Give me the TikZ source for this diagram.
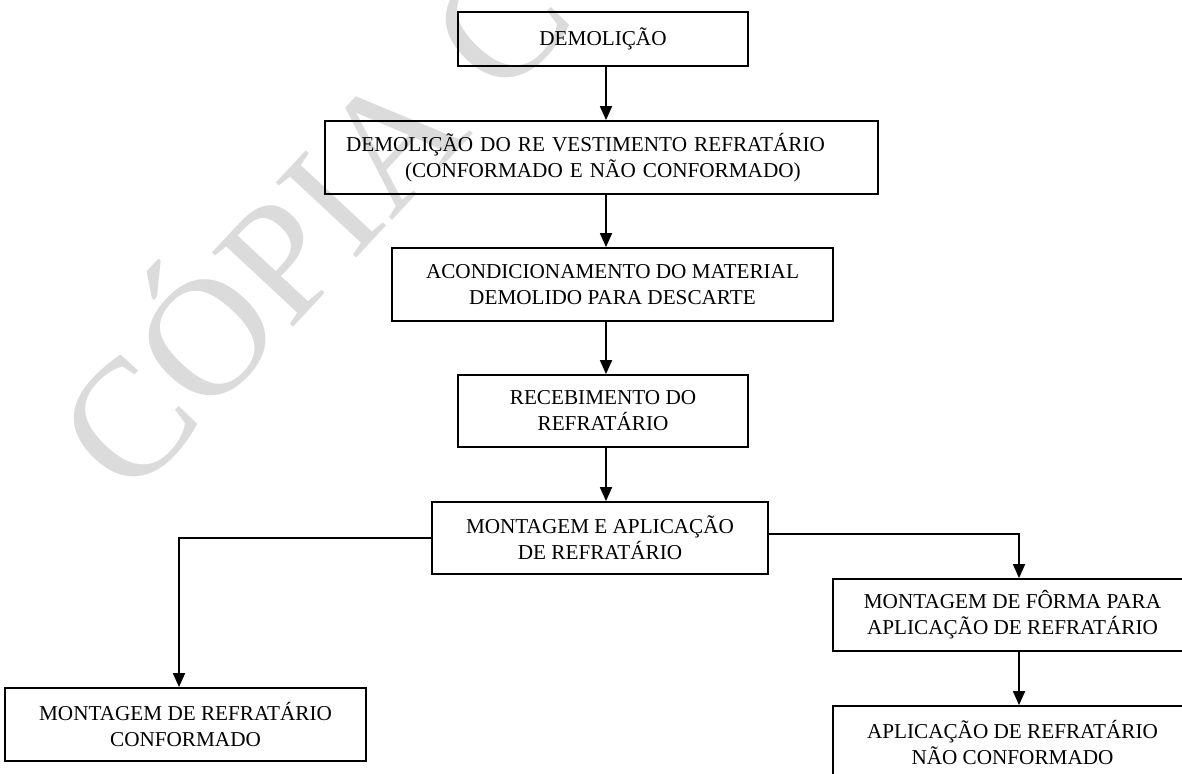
\documentclass[tikz,border=0pt]{standalone}
\usepackage{fontspec}
\setmainfont{Liberation Serif}
\usetikzlibrary{arrows.meta}
\begin{document}
\begin{tikzpicture}[x=1pt,y=-1pt,
  box/.style={draw, line width=1.8pt, rectangle, inner sep=0pt,
    font=\fontsize{21.2}{26}\selectfont, align=center},
  arr/.style={line width=1.8pt, -{Triangle[width=12pt,length=14pt]}},
  wm/.style={text=black!14, font=\fontsize{168}{168}\selectfont,
    rotate=47, anchor=base west, inner sep=0pt}]
\useasboundingbox (0,0) rectangle (1182,773);
\clip (0,0) rectangle (1182,773);
\node[wm] (wm) at (130,502) {CÓPIA CO};

\node[box, minimum width=290, minimum height=54] (b1) at (603,39) {DEMOLIÇÃO};
\node[box, minimum width=553, minimum height=73, text width=553pt, align=left] (b2) at (601.5,157.5)
  {\hspace*{21pt}DEMOLIÇÃO DO RE VESTIMENTO REFRATÁRIO\\\hspace*{80pt}(CONFORMADO E NÃO CONFORMADO)};
\node[box, minimum width=441, minimum height=73] (b3) at (612.5,284.5)
  {ACONDICIONAMENTO DO MATERIAL\\DEMOLIDO PARA DESCARTE};
\node[box, minimum width=290, minimum height=72] (b4) at (603,411)
  {RECEBIMENTO DO\\REFRATÁRIO};
\node[box, minimum width=336, minimum height=72] (b5) at (600,538)
  {MONTAGEM E APLICAÇÃO\\DE REFRATÁRIO};
\node[box, minimum width=359, minimum height=72] (b6) at (1012.5,615)
  {MONTAGEM DE FÔRMA PARA\\APLICAÇÃO DE REFRATÁRIO};
\node[box, minimum width=359, minimum height=73] (b7) at (1012.5,742.5)
  {APLICAÇÃO DE REFRATÁRIO\\NÃO CONFORMADO};
\node[box, minimum width=361, minimum height=73] (b8) at (185.5,724.5)
  {MONTAGEM DE REFRATÁRIO\\CONFORMADO};

\coordinate (ax) at (606,0);
\coordinate (lx) at (179,0);
\coordinate (rx) at (1019,0);
\coordinate (ry) at (0,534);

\draw[arr] (b1.south -| ax) -- (b2.north -| ax);
\draw[arr] (b2.south -| ax) -- (b3.north -| ax);
\draw[arr] (b3.south -| ax) -- (b4.north -| ax);
\draw[arr] (b4.south -| ax) -- (b5.north -| ax);
\draw[arr] (b5.west) -- (b5.west -| lx) -- (b8.north -| lx);
\draw[arr] (b5.east |- ry) -- (rx |- ry) -- (b6.north -| rx);
\draw[arr] (b6.south -| rx) -- (b7.north -| rx);
\end{tikzpicture}
\end{document}
